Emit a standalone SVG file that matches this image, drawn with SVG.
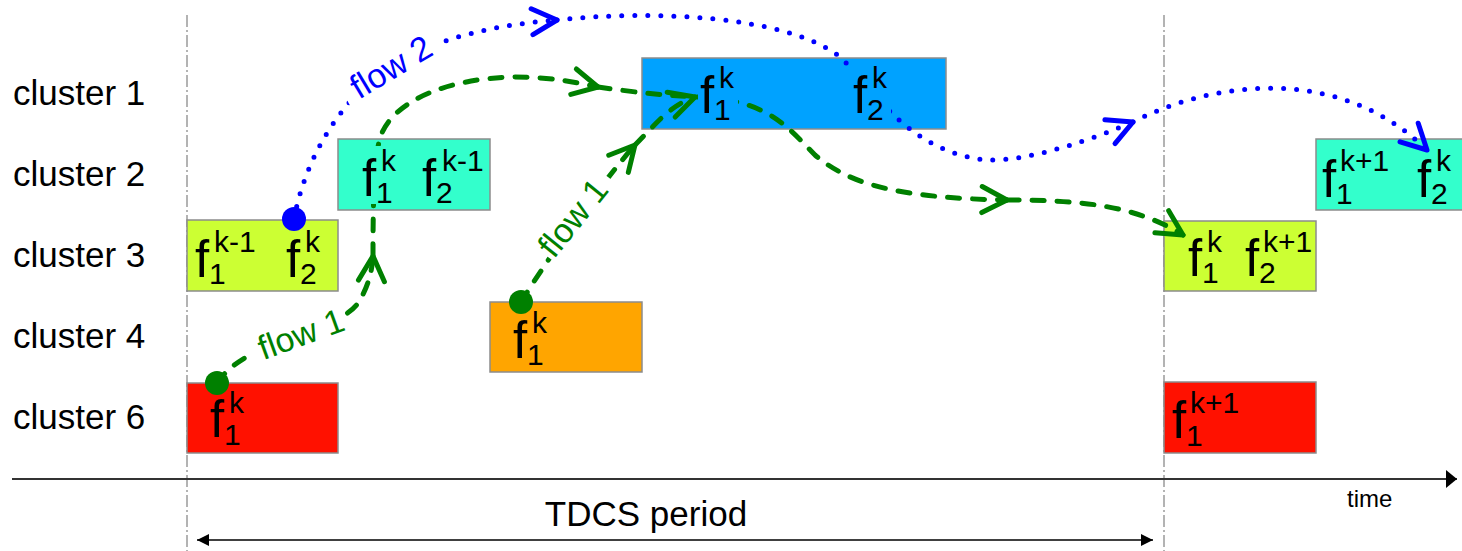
<svg xmlns="http://www.w3.org/2000/svg" width="1462" height="551" viewBox="0 0 1462 551">
  <style>
    text{font-family:"Liberation Sans",Arial,Helvetica,sans-serif;fill:#000}
    .lbl{font-size:35px}
    .f{font-size:51px}
    .s{font-size:30px}
    .box{stroke:#8c8c8c;stroke-width:1.5}
    .guide{fill:none;stroke:#9a9a9a;stroke-width:1.5;stroke-dasharray:12 3 2 3}
    .g{fill:none;stroke:#008000;stroke-width:5;stroke-dasharray:12 13;stroke-linecap:round}
    .b{fill:none;stroke:#0000ff;stroke-width:5;stroke-dasharray:0 13;stroke-linecap:round}
    .gt{font-size:34px;fill:#008000}
    .bt{font-size:34px;fill:#0000ff}
  </style>
  <defs>
    <marker id="ah-g" markerUnits="userSpaceOnUse" viewBox="-30 -20 40 40" markerWidth="40" markerHeight="40" refX="0" refY="0" orient="auto" overflow="visible">
      <path d="M-25,-13 L0,0 L-25,13" fill="none" stroke="#008000" stroke-width="5" stroke-linecap="round" stroke-linejoin="round"/>
    </marker>
    <marker id="ah-b" markerUnits="userSpaceOnUse" viewBox="-30 -20 40 40" markerWidth="40" markerHeight="40" refX="0" refY="0" orient="auto" overflow="visible">
      <path d="M-25,-13 L0,0 L-25,13" fill="none" stroke="#0000ff" stroke-width="5" stroke-linecap="round" stroke-linejoin="round"/>
    </marker>
    <marker id="tri" markerUnits="userSpaceOnUse" viewBox="-14 -8 16 16" markerWidth="16" markerHeight="16" refX="0" refY="0" orient="auto-start-reverse" overflow="visible">
      <path d="M-12,-6 L0,0 L-12,6 Z" fill="#000"/>
    </marker>
    <marker id="tri-axis" markerUnits="userSpaceOnUse" viewBox="-14 -10 16 20" markerWidth="16" markerHeight="20" refX="0" refY="0" orient="auto" overflow="visible">
      <path d="M-11,-9 L0,0 L-11,9 Z" fill="#000"/>
    </marker>
    <!-- keeps the flow lines out from under their labels -->
    <mask id="label-cut" maskUnits="userSpaceOnUse" x="0" y="0" width="1462" height="551">
      <rect width="1462" height="551" fill="#fff"/>
      <rect x="-56" y="-20" width="112" height="40" transform="translate(395,71) rotate(-29)" fill="#000"/>
      <rect x="-50" y="-19" width="100" height="38" transform="translate(298,335) rotate(-22)" fill="#000"/>
      <rect x="-50" y="-19" width="100" height="38" transform="translate(578,217) rotate(-53)" fill="#000"/>
      <rect x="355" y="146" width="45" height="58" fill="#000"/>
      <rect x="698" y="60" width="40" height="66" fill="#000"/>
      <rect x="849" y="64" width="42" height="50" fill="#000"/>
    </mask>
  </defs>

  <!-- row labels -->
  <g id="rows">
    <text class="lbl" x="13" y="105">cluster 1</text>
    <text class="lbl" x="13" y="186">cluster 2</text>
    <text class="lbl" x="13" y="267">cluster 3</text>
    <text class="lbl" x="13" y="348">cluster 4</text>
    <text class="lbl" x="13" y="429">cluster 6</text>
  </g>

  <!-- period boundaries and time axis -->
  <g id="axes">
    <line class="guide" x1="187" y1="15" x2="187" y2="551"/>
    <line class="guide" x1="1164" y1="15" x2="1164" y2="551"/>
    <line x1="12" y1="479" x2="1457" y2="479" stroke="#333" stroke-width="2" marker-end="url(#tri-axis)"/>
    <text x="1347" y="507" style="font-size:24px">time</text>
    <line x1="197" y1="540" x2="1153" y2="540" stroke="#000" stroke-width="1.5" marker-start="url(#tri)" marker-end="url(#tri)"/>
    <text class="lbl" x="646" y="526" text-anchor="middle">TDCS period</text>
  </g>

  <!-- slots, current period -->
  <g id="c3-a">
    <rect class="box" x="187" y="220" width="151" height="71" fill="#ccff33"/>
    <text class="f" x="195" y="277">f<tspan class="s" x="209" y="284">1</tspan><tspan class="s" x="214" y="252">k-1</tspan></text>
    <text class="f" x="286" y="277">f<tspan class="s" x="300" y="284">2</tspan><tspan class="s" x="305" y="252">k</tspan></text>
  </g>
  <g id="c2-a">
    <rect class="box" x="338" y="139" width="152" height="71" fill="#33ffcc"/>
    <text class="f" x="362" y="196">f<tspan class="s" x="376" y="203">1</tspan><tspan class="s" x="381" y="171">k</tspan></text>
    <text class="f" x="422" y="196">f<tspan class="s" x="436" y="203">2</tspan><tspan class="s" x="442" y="171">k-1</tspan></text>
  </g>
  <g id="c6-a">
    <rect class="box" x="187" y="383" width="151" height="70" fill="#ff1100"/>
    <text class="f" x="210" y="437">f<tspan class="s" x="224" y="445">1</tspan><tspan class="s" x="229" y="413">k</tspan></text>
  </g>
  <g id="c4-a">
    <rect class="box" x="490" y="302" width="152" height="70" fill="#ffa500"/>
    <text class="f" x="513" y="358">f<tspan class="s" x="527" y="365">1</tspan><tspan class="s" x="532" y="333">k</tspan></text>
  </g>
  <g id="c1-a">
    <rect class="box" x="642" y="58" width="304" height="71" fill="#00a2ff"/>
    <text class="f" x="700" y="113">f<tspan class="s" x="714" y="120">1</tspan><tspan class="s" x="719" y="88">k</tspan></text>
    <text class="f" x="853" y="113">f<tspan class="s" x="867" y="120">2</tspan><tspan class="s" x="872" y="88">k</tspan></text>
  </g>

  <!-- slots, next period -->
  <g id="c3-b">
    <rect class="box" x="1164" y="221" width="152" height="70" fill="#ccff33"/>
    <text class="f" x="1188" y="276">f<tspan class="s" x="1202" y="283">1</tspan><tspan class="s" x="1207" y="252">k</tspan></text>
    <text class="f" x="1245" y="276">f<tspan class="s" x="1259" y="283">2</tspan><tspan class="s" x="1263" y="252">k+1</tspan></text>
  </g>
  <g id="c2-b">
    <rect class="box" x="1316" y="139" width="152" height="71" fill="#33ffcc"/>
    <text class="f" x="1322" y="197">f<tspan class="s" x="1336" y="204">1</tspan><tspan class="s" x="1340" y="171">k+1</tspan></text>
    <text class="f" x="1417" y="197">f<tspan class="s" x="1431" y="204">2</tspan><tspan class="s" x="1436" y="171">k</tspan></text>
  </g>
  <g id="c6-b">
    <rect class="box" x="1164" y="382" width="152" height="71" fill="#ff1100"/>
    <text class="f" x="1172" y="438">f<tspan class="s" x="1186" y="446">1</tspan><tspan class="s" x="1190" y="413">k+1</tspan></text>
  </g>

  <!-- flows -->
  <g id="connectors">
    <g mask="url(#label-cut)">
      <!-- flow 1: cluster 6 -> cluster 2 -> cluster 1 -->
      <path class="g" d="M217,383 C250,335 340,335 360,300 C368,286 372,272 373,256" marker-end="url(#ah-g)"/>
      <path class="g" d="M373,256 C373,200 374,160 380,138 C392,100 450,78 515,77 C550,77 575,82 598,87" marker-end="url(#ah-g)"/>
      <path class="g" d="M598,87 C640,93 670,96 700,97"/>
      <!-- flow 1: cluster 4 -> cluster 1 -->
      <path class="g" d="M521,302 C550,255 600,185 635,145" marker-end="url(#ah-g)"/>
      <path class="g" d="M635,145 C655,125 670,105 695,97" marker-end="url(#ah-g)"/>
      <!-- flow 1: cluster 1 -> cluster 3 (next period) -->
      <path class="g" d="M700,97 C770,100 790,130 815,155 C850,185 900,198 1007,200" marker-end="url(#ah-g)"/>
      <path class="g" d="M1007,200 C1080,200 1135,205 1183,235" marker-end="url(#ah-g)"/>
      <!-- flow 2: cluster 3 -> cluster 1 -> cluster 2 (next period) -->
      <path class="b" d="M294,219 C305,160 340,95 400,60 C440,38 500,24 557,20" marker-end="url(#ah-b)"/>
      <path class="b" d="M557,20 C650,10 780,15 836,54 C865,75 900,150 985,160 C1030,162 1095,138 1133,122" marker-end="url(#ah-b)"/>
      <path class="b" d="M1133,122 C1215,80 1340,65 1427,150" marker-end="url(#ah-b)"/>
    </g>
    <circle cx="217" cy="383" r="12" fill="#008000"/>
    <circle cx="521" cy="302" r="12" fill="#008000"/>
    <circle cx="294" cy="219" r="12" fill="#0000ff"/>
    <text class="bt" transform="translate(397,77) rotate(-31)" text-anchor="middle">flow 2</text>
    <text class="gt" transform="translate(305,345) rotate(-20)" text-anchor="middle">flow 1</text>
    <text class="gt" transform="translate(582,225) rotate(-51)" text-anchor="middle">flow 1</text>
  </g>
</svg>
